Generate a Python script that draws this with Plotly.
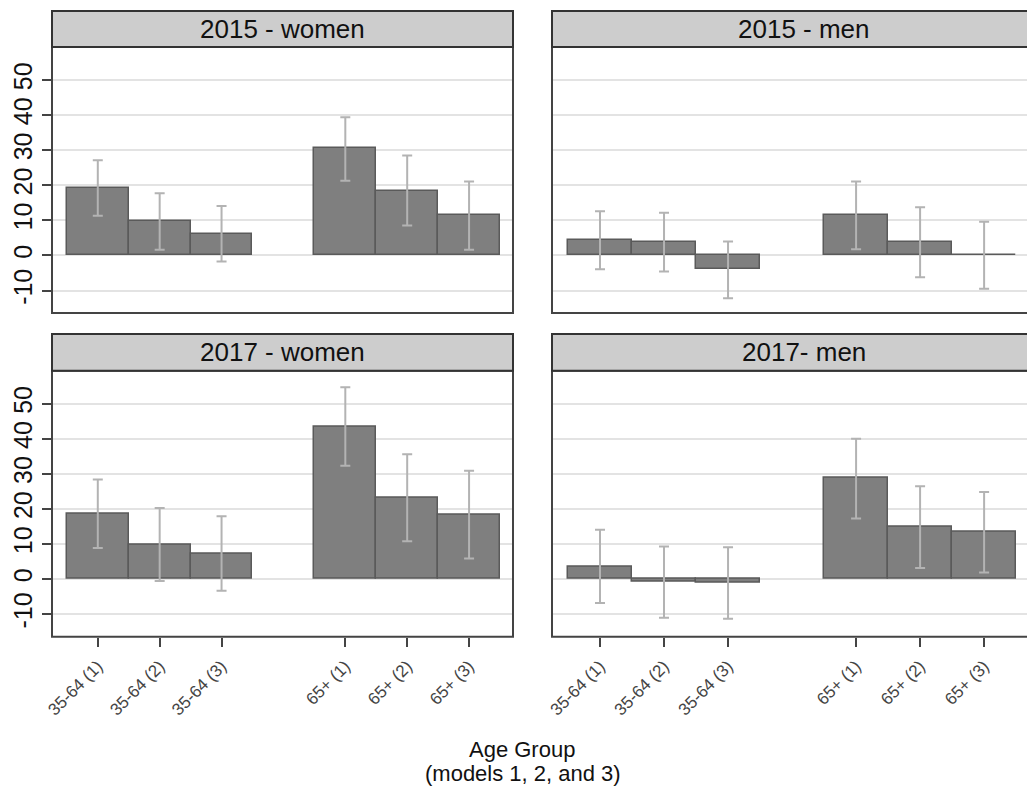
import plotly.graph_objects as go

categories = ["35-64 (1)", "35-64 (2)", "35-64 (3)", "65+ (1)", "65+ (2)", "65+ (3)"]
cat_pos = [1, 2, 3, 5, 6, 7]
panel_titles = ["2015 - women", "2015 - men", "2017 - women", "2017- men"]

# point estimates
est_2015_women = [19.3, 9.8, 6.2, 30.5, 18.5, 11.4]
est_2015_men = [4.4, 3.8, -4.0, 11.6, 3.8, 0.2]
est_2017_women = [18.7, 9.8, 7.3, 43.5, 23.3, 18.5]
est_2017_men = [3.6, -0.8, -1.0, 28.8, 14.9, 13.5]

# confidence interval bounds
lo_2015_women = [11.3, 1.6, -1.7, 21.3, 8.5, 1.6]
hi_2015_women = [27.1, 17.7, 14.1, 39.4, 28.5, 21.1]
lo_2015_men = [-3.9, -4.6, -12.2, 1.8, -6.2, -9.5]
hi_2015_men = [12.6, 12.2, 4.0, 21.1, 13.7, 9.6]
lo_2017_women = [8.9, -0.5, -3.3, 32.3, 10.8, 5.9]
hi_2017_women = [28.4, 20.3, 17.9, 54.7, 35.6, 30.9]
lo_2017_men = [-6.8, -11.0, -11.3, 17.3, 3.2, 1.9]
hi_2017_men = [14.1, 9.3, 9.1, 40.0, 26.5, 24.8]

y_ticks = [-10, 0, 10, 20, 30, 40, 50]
y_ticktext = ["-10", "0", "10", "20", "30", "40", "50"]

panels = [
    (est_2015_women, lo_2015_women, hi_2015_women),
    (est_2015_men, lo_2015_men, hi_2015_men),
    (est_2017_women, lo_2017_women, hi_2017_women),
    (est_2017_men, lo_2017_men, hi_2017_men),
]

W, H = 1027, 787
ML, MR, MT, MB = 52, 0, 11, 150
pw, ph = W - ML - MR, H - MT - MB

def px_x(a, b):
    return [(a - ML) / pw, (b - ML) / pw]

def px_y(top, bottom):
    return [(H - MB - bottom) / ph, (H - MB - top) / ph]

def py(y):
    return (H - MB - y) / ph

xdom = [px_x(52, 513), px_x(552, 1027)]
ydom_top = px_y(47, 313)
ydom_bot = px_y(370.7, 636.7)
ydoms = [ydom_top, ydom_bot]
strip_px = [(11, 47), (334, 370.7)]
xranges = [[0.26, 7.71], [0.25, 7.67]]
yrange = [-16.4, 59.4]

fig = go.Figure()
FONT = "Liberation Sans, Arial, Helvetica, sans-serif"
NARROW = "Liberation Sans Narrow, Arial Narrow, Liberation Sans, Arial, sans-serif"
frame_col = "#444444"

for i, (est, lo, hi) in enumerate(panels):
    r, c = divmod(i, 2)
    n = i + 1
    sfx = "" if n == 1 else str(n)
    plus = [h - e for h, e in zip(hi, est)]
    minus = [e - l for e, l in zip(est, lo)]
    fig.add_trace(go.Bar(
        x=cat_pos, y=est, width=1,
        marker=dict(color="#7f7f7f", line=dict(color="#5a5a5a", width=1.5)),
        error_y=dict(type="data", symmetric=False, array=plus, arrayminus=minus,
                     color="#b3b3b3", thickness=2, width=5),
        xaxis=f"x{sfx}", yaxis=f"y{sfx}", showlegend=False,
    ))
    xa = dict(domain=xdom[c], range=xranges[c], anchor=f"y{sfx}",
              showgrid=False, zeroline=False, showline=False,
              tickvals=cat_pos, ticktext=categories, fixedrange=True)
    if r == 1:
        xa.update(ticks="outside", ticklen=9, tickwidth=1.5, tickcolor=frame_col,
                  tickangle=-45, ticklabelstandoff=3,
                  tickfont=dict(family=FONT, size=17, color="#444444"))
    else:
        xa.update(showticklabels=False, ticks="")
    ya = dict(domain=ydoms[r], range=yrange, anchor=f"x{sfx}",
              showgrid=True, gridcolor="#e3e3e3", gridwidth=1.5,
              zeroline=False, showline=False, tickvals=y_ticks,
              ticktext=y_ticktext, fixedrange=True)
    if c == 0:
        ya.update(ticks="outside", ticklen=9, tickwidth=1.5, tickcolor=frame_col,
                  tickangle=-90, ticklabelstandoff=0,
                  tickfont=dict(family=NARROW, size=25, color="#111111"))
    else:
        ya.update(showticklabels=False, ticks="")
    fig.layout["xaxis" + sfx] = xa
    fig.layout["yaxis" + sfx] = ya

    # frame
    x1 = 1.03 if c == 1 else 1
    fig.add_shape(type="rect", xref=f"x{sfx} domain", yref=f"y{sfx} domain",
                  x0=0, x1=x1, y0=0, y1=1, line=dict(color=frame_col, width=2),
                  fillcolor="rgba(0,0,0,0)", layer="above")
    # strip
    st, sb = strip_px[r]
    sy0 = py(sb)
    sy1 = py(st)
    xr1 = xdom[c][1] + 0.03 if c == 1 else xdom[c][1]
    fig.add_shape(type="rect", xref="paper", yref="paper",
                  x0=xdom[c][0], x1=xr1,
                  y0=sy0, y1=sy1, line=dict(color="#333333", width=2),
                  fillcolor="#cdcdcd", layer="above")
    fig.add_annotation(xref="paper", yref="paper",
                       x=(xdom[c][0] + xr1) / 2,
                       y=(sy0 + sy1) / 2, text=panel_titles[i], showarrow=False,
                       font=dict(family=FONT, size=26, color="#111111"),
                       xanchor="center", yanchor="middle")

fig.add_annotation(xref="paper", yref="paper", x=(522 - ML) / pw,
                   y=py(763), text="Age Group", borderpad=0,
                   showarrow=False, font=dict(family=FONT, size=22, color="#111111"),
                   xanchor="center", yanchor="bottom")
fig.add_annotation(xref="paper", yref="paper", x=(523 - ML) / pw,
                   y=py(787), text="(models 1, 2, and 3)", borderpad=0,
                   showarrow=False, font=dict(family=FONT, size=22, color="#111111"),
                   xanchor="center", yanchor="bottom")

fig.update_layout(width=W, height=H, margin=dict(l=ML, r=MR, t=MT, b=MB),
                  plot_bgcolor="white", paper_bgcolor="white", bargap=0)

fig.write_html("out.html", config={"displayModeBar": False},
               post_script="document.body.style.margin='0';document.body.style.overflow='hidden';")
